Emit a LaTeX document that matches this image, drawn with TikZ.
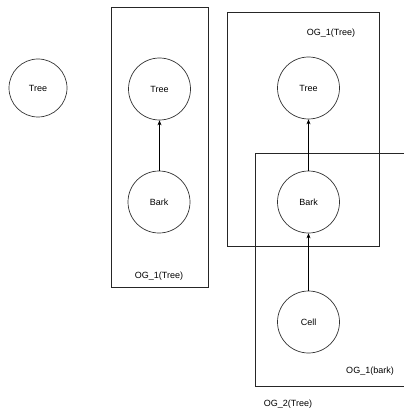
\documentclass[tikz,border=0pt]{standalone}
\usepackage{fontspec}
\setmainfont{Liberation Sans}
\usetikzlibrary{arrows.meta}
\begin{document}
\begin{tikzpicture}[x=1pt,y=-1pt,
  entity/.style={circle,draw=black!80,line width=0.7pt,minimum size=62pt,inner sep=0pt,font=\fontsize{9}{10}\selectfont},
  grp/.style={draw=black!85,line width=0.8pt},
  lbl/.style={font=\fontsize{9}{10}\selectfont,inner sep=0pt},
  link/.style={draw=black,line width=0.8pt,-{Stealth[length=5pt,width=4pt]}}]
\useasboundingbox (0,0) rectangle (404,417);
% boxes
\draw[grp] (111,7) rectangle (208,287);
\draw[grp] (227,12) rectangle (379,246);
\draw[grp] (404,153) -- (255,153) -- (255,386) -- (404,386);
% nodes
\node[entity,minimum size=58pt] (t0) at (38,88) {Tree};
\node[entity] (t1) at (159.5,89) {Tree};
\node[entity] (b1) at (159,202) {Bark};
\node[entity] (t2) at (308.5,88) {Tree};
\node[entity] (b2) at (308.5,202) {Bark};
\node[entity] (c2) at (308.5,322) {Cell};
% labels
\node[lbl] (l1) at (159,276) {OG\_1(Tree)};
\node[lbl] (l2) at (331,33) {OG\_1(Tree)};
\node[lbl] (l3) at (370,371) {OG\_1(bark)};
\node[lbl] (l4) at (288,404) {OG\_2(Tree)};
% arrows
\draw[link] (b1.north) -- ++(0,-28) -| (t1.south);
\draw[link] (b2) -- (t2);
\draw[link] (c2) -- (b2);
\end{tikzpicture}
\end{document}
